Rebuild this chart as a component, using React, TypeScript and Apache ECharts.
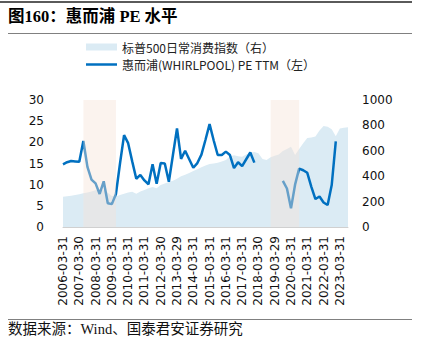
import React, { useEffect, useRef } from "react";
import * as echarts from "echarts";

const dates: string[] = [
  "2006-03-31", "2006-06-30", "2006-09-29", "2006-12-29",
  "2007-03-30", "2007-06-29", "2007-09-28", "2007-12-31",
  "2008-03-31", "2008-06-30", "2008-09-30", "2008-12-31",
  "2009-03-31", "2009-06-30", "2009-09-30", "2009-12-31",
  "2010-03-31", "2010-06-30", "2010-09-30", "2010-12-31",
  "2011-03-31", "2011-06-30", "2011-09-30", "2011-12-30",
  "2012-03-30", "2012-06-29", "2012-09-28", "2012-12-31",
  "2013-03-29", "2013-06-28", "2013-09-30", "2013-12-31",
  "2014-03-31", "2014-06-30", "2014-09-30", "2014-12-31",
  "2015-03-31", "2015-06-30", "2015-09-30", "2015-12-31",
  "2016-03-31", "2016-06-30", "2016-09-30", "2016-12-30",
  "2017-03-31", "2017-06-30", "2017-09-29", "2017-12-29",
  "2018-03-30", "2018-06-29", "2018-09-28", "2018-12-31",
  "2019-03-29", "2019-06-28", "2019-09-30", "2019-12-31",
  "2020-03-31", "2020-06-30", "2020-09-30", "2020-12-31",
  "2021-03-31", "2021-06-30", "2021-09-30", "2021-12-31",
  "2022-03-31", "2022-06-30", "2022-09-30", "2022-12-30",
  "2023-03-31", "2023-06-30", "2023-09-29",
];

const staplesIndex: number[] = [
  239, 243, 246, 252, 258, 265, 272, 280, 290, 297, 290, 270,
  245, 240, 252, 262, 272, 278, 262, 280, 292, 305, 315, 305,
  330, 342, 355, 365, 380, 400, 412, 425, 440, 455, 470, 485,
  496, 500, 505, 515, 527, 555, 565, 558, 554, 570, 585, 590,
  580, 535, 527, 550, 562, 570, 598, 615, 632, 567, 615, 660,
  700, 705, 712, 760, 795, 790, 770, 715, 775, 782, 785,
];

const whirlpoolPE: (number | null)[] = [
  14.8, 15.3, 15.6, 15.5, 15.4, 20.3, 14.2, 11.2,
  10.3, 7.8, 10.8, 5.6, 5.4, 7.8, 15.0, 21.7,
  19.8, 15.5, 11.4, 12.3, 11.0, 10.1, 14.8, 10.2,
  15.1, 15.0, 10.7, 17.0, 23.3, 16.1, 18.0, 16.0,
  14.0, 15.1, 17.1, 20.6, 24.3, 20.5, 17.0, 17.0,
  17.8, 17.0, 13.9, 15.3, 14.4, 16.0, 17.6, 15.2,
  null, null, null, null, null, null, 10.9, 9.1,
  4.4, 10.0, 13.8, 13.4, 12.8, 9.5, 6.6, 7.2,
  5.8, 5.2, 9.9, 20.2, null, null, null,
];

const shadedPeriods: [string, string][] = [
  ["2007-06-29", "2009-06-30"],
  ["2018-12-31", "2020-09-30"],
];

const leftTicks = { min: 0, max: 30, interval: 5 };
const rightTicks = { min: 0, max: 1000, interval: 200 };

const AREA_NAME = "标普500日常消费指数（右）";
const LINE_NAME = "惠而浦(WHIRLPOOL) PE TTM（左）";
const TITLE = "图160：惠而浦 PE 水平";
const SOURCE = "数据来源：Wind、国泰君安证券研究";

const CJK = "'Noto Sans CJK SC', sans-serif";
const AXIS_FONT = "'DejaVu Sans', sans-serif";

export default function App() {
  const ref = useRef<HTMLDivElement>(null);

  useEffect(() => {
    if (!ref.current) return;
    const chart = echarts.init(ref.current, null, { renderer: "svg" });
    const legendCommon = {
      left: 86,
      padding: 0,
      itemWidth: 31,
      selectedMode: false,
      textStyle: { fontSize: 12, lineHeight: 13, fontFamily: CJK, color: "#222" },
    };
    chart.setOption({
      animation: false,
      grid: { left: 63, right: 75, top: 100, bottom: 126 },
      legend: [
        { ...legendCommon, top: 40.5, itemHeight: 7, data: [{ name: AREA_NAME, icon: "rect" }] },
        { ...legendCommon, top: 58, itemHeight: 2.5, data: [{ name: LINE_NAME, icon: "rect" }] },
      ],
      xAxis: {
        type: "category",
        data: dates,
        boundaryGap: false,
        axisLine: { show: true, lineStyle: { color: "#d0d0d0", width: 1 } },
        axisTick: { show: false },
        axisLabel: {
          interval: 3,
          rotate: 90,
          margin: 9,
          fontSize: 12,
          fontFamily: AXIS_FONT,
          color: "#111",
        },
        splitLine: { show: false },
      },
      yAxis: [
        {
          type: "value",
          ...leftTicks,
          axisLine: { show: false },
          axisTick: { show: false },
          splitLine: { show: false },
          axisLabel: { margin: 19, fontSize: 12, fontFamily: AXIS_FONT, color: "#111" },
        },
        {
          type: "value",
          ...rightTicks,
          axisLine: { show: false },
          axisTick: { show: false },
          splitLine: { show: false },
          axisLabel: {
            margin: 14,
            fontSize: 12,
            fontFamily: AXIS_FONT,
            color: "#111",
            formatter: (v: number) => String(v),
          },
        },
      ],
      series: [
        {
          name: AREA_NAME,
          type: "line",
          yAxisIndex: 1,
          data: staplesIndex,
          symbol: "none",
          color: "#dbebf4",
          itemStyle: { color: "#dbebf4" },
          lineStyle: { width: 0, color: "#dbebf4" },
          areaStyle: { color: "#dbebf4", opacity: 1 },
          z: 1,
        },
        {
          name: LINE_NAME,
          type: "line",
          yAxisIndex: 0,
          data: whirlpoolPE,
          symbol: "none",
          connectNulls: false,
          color: "#0070c0",
          itemStyle: { color: "#0070c0" },
          lineStyle: { width: 2.5, color: "#0070c0" },
          z: 3,
          markArea: {
            silent: true,
            z: 10,
            itemStyle: { color: "rgba(245,226,214,0.42)" },
            label: { show: false },
            data: shadedPeriods.map(([a, b]) => [{ xAxis: a }, { xAxis: b }]),
          },
        },
      ],
      graphic: [
        {
          type: "rect",
          shape: { x: 0, y: 1, width: 412, height: 2 },
          style: { fill: "#5a5a5a" },
          silent: true,
        },
        {
          type: "text",
          x: 8,
          y: 16,
          style: {
            text: TITLE,
            fill: "#000",
            font: "bold 16.5px 'Liberation Serif', 'Noto Sans CJK SC', serif",
            verticalAlign: "middle",
            align: "left",
          },
        },
        {
          type: "line",
          shape: { x1: 8, y1: 33.5, x2: 412, y2: 33.5 },
          style: { stroke: "#808080", lineWidth: 1 },
          silent: true,
        },
        {
          type: "line",
          shape: { x1: 8, y1: 319.5, x2: 412, y2: 319.5 },
          style: { stroke: "#808080", lineWidth: 1 },
          silent: true,
        },
        {
          type: "text",
          x: 8,
          y: 329,
          style: {
            text: SOURCE,
            fill: "#111",
            font: "14.5px 'Liberation Serif', 'Noto Sans CJK SC', serif",
            verticalAlign: "middle",
            align: "left",
          },
        },
      ],
    });
    return () => chart.dispose();
  }, []);

  return (
    <div
      ref={ref}
      style={{ position: "fixed", left: 0, top: 0, width: 423, height: 353, background: "#fff" }}
    />
  );
}
